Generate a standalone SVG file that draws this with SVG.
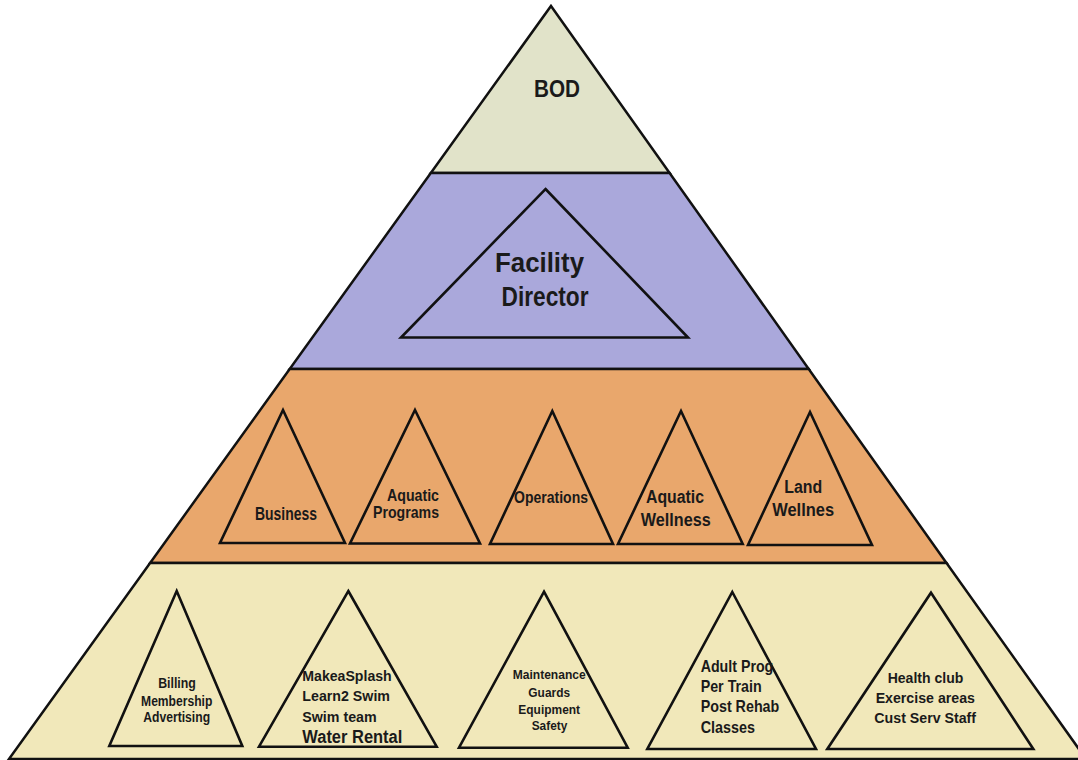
<svg xmlns="http://www.w3.org/2000/svg" width="1078" height="760" viewBox="0 0 1078 760">
<style>
.band{stroke:#111;stroke-width:2.5;stroke-linejoin:miter}
.tri{fill:none;stroke:#111;stroke-width:2.6;stroke-linejoin:miter}
text{font-family:"Liberation Sans",Arial,sans-serif;font-weight:bold;fill:#1a1a1a}
.c{text-anchor:middle}
</style>
<rect width="1078" height="760" fill="#ffffff"/>
<g id="pyramid">
<polygon id="band-bod" class="band" fill="#e1e3c9" points="551,6 669.6,173 430.8,173"/>
<polygon id="band-director" class="band" fill="#aaa8db" points="430.8,173 669.6,173 808.7,369 289.7,369"/>
<polygon id="band-depts" class="band" fill="#e9a76c" points="289.7,369 808.7,369 946.5,563 150.1,563"/>
<polygon id="band-staff" class="band" fill="#f1e8ba" points="150.1,563 946.5,563 1086,759 9,759"/>
</g>
<g id="node-bod">
<text class="c" x="557" y="97" font-size="24" textLength="46" lengthAdjust="spacingAndGlyphs">BOD</text>
</g>
<g id="node-facility-director">
<polygon class="tri" points="545.5,189 688,337.5 401,337.5"/>
<text class="c" x="539.5" y="271.5" font-size="27" textLength="89" lengthAdjust="spacingAndGlyphs">Facility</text>
<text class="c" x="545" y="305.5" font-size="27" textLength="87" lengthAdjust="spacingAndGlyphs">Director</text>
</g>
<g id="node-business">
<polygon class="tri" points="283,410 345,543 220,543"/>
<text class="c" x="286" y="520" font-size="17.5" textLength="62" lengthAdjust="spacingAndGlyphs">Business</text>
</g>
<g id="node-aquatic-programs">
<polygon class="tri" points="415,410 480,543.5 350,543.5"/>
<text class="c" x="413" y="500.7" font-size="17" textLength="52" lengthAdjust="spacingAndGlyphs">Aquatic</text>
<text class="c" x="406" y="518" font-size="17" textLength="66" lengthAdjust="spacingAndGlyphs">Programs</text>
</g>
<g id="node-operations">
<polygon class="tri" points="552.3,411 613,544 490,544"/>
<text class="c" x="551" y="503" font-size="16.5" textLength="74" lengthAdjust="spacingAndGlyphs">Operations</text>
</g>
<g id="node-aquatic-wellness">
<polygon class="tri" points="681,411 742.7,544 618,544"/>
<text class="c" x="675" y="503.3" font-size="18" textLength="58" lengthAdjust="spacingAndGlyphs">Aquatic</text>
<text class="c" x="675.7" y="526" font-size="18" textLength="70" lengthAdjust="spacingAndGlyphs">Wellness</text>
</g>
<g id="node-land-wellnes">
<polygon class="tri" points="810,412 872,545 748,545"/>
<text class="c" x="803.3" y="493.3" font-size="18" textLength="38" lengthAdjust="spacingAndGlyphs">Land</text>
<text class="c" x="803.2" y="515.7" font-size="18" textLength="62" lengthAdjust="spacingAndGlyphs">Wellnes</text>
</g>
<g id="node-billing">
<polygon class="tri" points="176.7,591 242.3,746 109.3,746"/>
<text class="c" x="177" y="688.3" font-size="14" textLength="37.7" lengthAdjust="spacingAndGlyphs">Billing</text>
<text class="c" x="176.7" y="705.7" font-size="14" textLength="71.3" lengthAdjust="spacingAndGlyphs">Membership</text>
<text class="c" x="176.7" y="722.3" font-size="14" textLength="66.7" lengthAdjust="spacingAndGlyphs">Advertising</text>
</g>
<g id="node-swim">
<polygon class="tri" points="348.3,591 436.7,746.7 259,746.7"/>
<text x="302.3" y="680.7" font-size="15.5" textLength="89.4" lengthAdjust="spacingAndGlyphs">MakeaSplash</text>
<text x="302.3" y="701" font-size="15.5" textLength="87.7" lengthAdjust="spacingAndGlyphs">Learn2 Swim</text>
<text x="302.3" y="721.7" font-size="15.5" textLength="74.4" lengthAdjust="spacingAndGlyphs">Swim team</text>
<text x="302.3" y="743.3" font-size="18" textLength="100" lengthAdjust="spacingAndGlyphs">Water Rental</text>
</g>
<g id="node-maintenance">
<polygon class="tri" points="544,591.7 627.7,747.7 459,747.7"/>
<text class="c" x="549.2" y="679" font-size="13" textLength="73" lengthAdjust="spacingAndGlyphs">Maintenance</text>
<text class="c" x="549.2" y="696.7" font-size="13" textLength="41.7" lengthAdjust="spacingAndGlyphs">Guards</text>
<text class="c" x="549.2" y="714" font-size="13" textLength="61.7" lengthAdjust="spacingAndGlyphs">Equipment</text>
<text class="c" x="549.5" y="730" font-size="13" textLength="35.6" lengthAdjust="spacingAndGlyphs">Safety</text>
</g>
<g id="node-adult">
<polygon class="tri" points="732.3,592 816,749 647.3,749"/>
<text x="700.7" y="671.7" font-size="16.5" textLength="72.6" lengthAdjust="spacingAndGlyphs">Adult Prog</text>
<text x="700.7" y="691.7" font-size="16.5" textLength="61" lengthAdjust="spacingAndGlyphs">Per Train</text>
<text x="700.7" y="711.7" font-size="16.5" textLength="78.6" lengthAdjust="spacingAndGlyphs">Post Rehab</text>
<text x="700.7" y="732.7" font-size="16.5" textLength="54.3" lengthAdjust="spacingAndGlyphs">Classes</text>
</g>
<g id="node-health">
<polygon class="tri" points="931,592.7 1033.3,749 827.3,749"/>
<text class="c" x="925.5" y="682.7" font-size="15.5" textLength="75.6" lengthAdjust="spacingAndGlyphs">Health club</text>
<text class="c" x="925.3" y="702.7" font-size="15.5" textLength="99.3" lengthAdjust="spacingAndGlyphs">Exercise areas</text>
<text class="c" x="925.2" y="723.3" font-size="15.5" textLength="101.7" lengthAdjust="spacingAndGlyphs">Cust Serv Staff</text>
</g>
<g id="connectors"></g>
</svg>
